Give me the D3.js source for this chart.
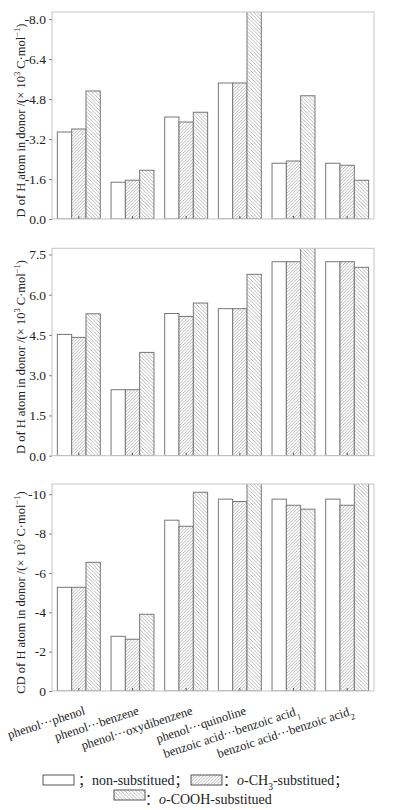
<!DOCTYPE html>
<html>
<head>
<meta charset="utf-8">
<script src="https://cdn.jsdelivr.net/npm/d3@7"></script>
<style>
  body { margin: 0; background: #fff; }
  svg text { font-family: "Liberation Serif", "Times New Roman", "Noto Sans CJK SC", serif; fill: #222; }
  .frame { fill: none; stroke: #c4c4c4; stroke-width: 1; }
  .bar { stroke: #777; stroke-width: 1; }
  .tick line { stroke: #888; }
</style>
</head>
<body>
<div id="chart"></div>
<script>
var w = 395;
var h = 810;
var left = 52, right = 374;

// categories (x axis)
var groups = ["phenol···phenol", "phenol···benzene", "phenol···oxydibenzene",
              "phenol···quinoline", "benzoic acid···benzoic acid", "benzoic acid···benzoic acid"];
var groupSubs = ["", "", "", "", "1", "2"];
var seriesKeys = ["non", "ch3", "cooh"];

// panel 1 : D of H atom (negative values)
var p1Non  = [-3.48, -1.47, -4.08, -5.44, -2.23, -2.23];
var p1Ch3  = [-3.60, -1.55, -3.88, -5.44, -2.32, -2.15];
var p1Cooh = [-5.12, -1.95, -4.27, -8.60, -4.93, -1.55];
var p1Ticks = [0, -1.6, -3.2, -4.8, -6.4, -8.0];

// panel 2 : D of H atom
var p2Non  = [4.52, 2.46, 5.30, 5.48, 7.23, 7.23];
var p2Ch3  = [4.41, 2.46, 5.19, 5.48, 7.23, 7.23];
var p2Cooh = [5.29, 3.85, 5.69, 6.76, 7.90, 7.02];
var p2Ticks = [0, 1.5, 3.0, 4.5, 6.0, 7.5];

// panel 3 : CD of H atom
var p3Non  = [-5.27, -2.78, -8.68, -9.75, -9.75, -9.75];
var p3Ch3  = [-5.27, -2.63, -8.37, -9.63, -9.44, -9.44];
var p3Cooh = [-6.54, -3.90, -10.10, -10.80, -9.24, -10.80];
var p3Ticks = [0, -2, -4, -6, -8, -10];

var panels = [
  {top: 12,    bottom: 219,   max: -8.28, ticks: p1Ticks, fmt: function(d){ return d.toFixed(1); },
   series: [p1Non, p1Ch3, p1Cooh], title: "D"},
  {top: 248.3, bottom: 455.7, max: 7.73,  ticks: p2Ticks, fmt: function(d){ return d.toFixed(1); },
   series: [p2Non, p2Ch3, p2Cooh], title: "D"},
  {top: 484,   bottom: 691,   max: -10.52, ticks: p3Ticks, fmt: function(d){ return String(d); },
   series: [p3Non, p3Ch3, p3Cooh], title: "CD"}
];

var fills = {non: "#fff", ch3: "url(#hatchUp)", cooh: "url(#hatchDown)"};

var svg = d3.select("#chart").append("svg")
  .attr("width", w)
  .attr("height", h);

var defs = svg.append("defs");
// "///" hatch
var pu = defs.append("pattern").attr("id", "hatchUp")
  .attr("patternUnits", "userSpaceOnUse").attr("width", 3.2).attr("height", 3.2);
pu.append("rect").attr("width", 3.2).attr("height", 3.2).attr("fill", "#fff");
pu.append("path").attr("d", "M-0.8,0.8 L0.8,-0.8 M0,3.2 L3.2,0 M2.4,4 L4,2.4")
  .attr("stroke", "#9a9a9a").attr("stroke-width", 0.7);
// "\\\" hatch
var pd = defs.append("pattern").attr("id", "hatchDown")
  .attr("patternUnits", "userSpaceOnUse").attr("width", 3.6).attr("height", 3.6);
pd.append("rect").attr("width", 3.6).attr("height", 3.6).attr("fill", "#fff");
pd.append("path").attr("d", "M-0.9,2.7 L0.9,4.5 M0,0 L3.6,3.6 M2.7,-0.9 L4.5,0.9")
  .attr("stroke", "#9a9a9a").attr("stroke-width", 0.7);

var xScale = d3.scaleBand()
  .domain(d3.range(groups.length))
  .range([left, right])
  .paddingInner(0.2)
  .paddingOuter(0.1);

var xSub = d3.scaleBand()
  .domain(seriesKeys)
  .range([0, xScale.bandwidth()]);

panels.forEach(function(p, pi) {
  var yScale = d3.scaleLinear()
    .domain([0, p.max])
    .range([p.bottom, p.top]);

  var g = svg.append("g");

  defs.append("clipPath").attr("id", "clip" + pi)
    .append("rect")
    .attr("x", left).attr("y", p.top)
    .attr("width", right - left).attr("height", p.bottom - p.top);

  var bars = g.append("g").attr("clip-path", "url(#clip" + pi + ")");
  groups.forEach(function(name, gi) {
    seriesKeys.forEach(function(k, si) {
      var v = p.series[si][gi];
      bars.append("rect")
        .attr("class", "bar")
        .attr("x", xScale(gi) + xSub(k))
        .attr("width", xSub.bandwidth())
        .attr("y", yScale(v))
        .attr("height", yScale(0) - yScale(v))
        .attr("fill", fills[k]);
    });
  });

  // small ticks at group centres
  g.selectAll(".gtick").data(d3.range(groups.length)).enter()
    .append("line")
    .attr("x1", function(d){ return xScale(d) + xScale.bandwidth() / 2; })
    .attr("x2", function(d){ return xScale(d) + xScale.bandwidth() / 2; })
    .attr("y1", p.bottom).attr("y2", p.bottom - 3)
    .attr("stroke", "#555");

  g.append("rect").attr("class", "frame")
    .attr("x", left).attr("y", p.top)
    .attr("width", right - left).attr("height", p.bottom - p.top);

  var yAxis = d3.axisLeft(yScale)
    .tickValues(p.ticks)
    .tickFormat(p.fmt)
    .tickSizeInner(3)
    .tickSizeOuter(0)
    .tickPadding(3);

  var ax = g.append("g")
    .attr("transform", "translate(" + left + ",0)")
    .call(yAxis);
  ax.select(".domain").remove();
  ax.selectAll("text").attr("font-size", "13.5px")
    .style("font-family", "'Liberation Serif', serif").attr("fill", "#333");

  var t = svg.append("text")
    .attr("transform", "translate(21," + ((p.top + p.bottom) / 2 + 5) + ") rotate(-90)")
    .attr("text-anchor", "middle")
    .attr("dy", "0.35em")
    .attr("font-size", "12.5px");
  t.append("tspan").text(p.title + " of H atom in donor /(× 10");
  t.append("tspan").attr("baseline-shift", "super").attr("font-size", "8.5px").text("3");
  t.append("tspan").text(" C·mol");
  t.append("tspan").attr("baseline-shift", "super").attr("font-size", "8.5px").text("−1");
  t.append("tspan").text(")");
});

// x labels, rotated
var labels = svg.append("g");
groups.forEach(function(name, gi) {
  var cx = xScale(gi) + xScale.bandwidth() / 2 + 7;
  var t = labels.append("text")
    .attr("transform", "translate(" + cx + ",714) rotate(-18)")
    .attr("text-anchor", "end")
    .attr("font-size", "12.5px");
  t.append("tspan").text(name);
  if (groupSubs[gi]) {
    t.append("tspan").attr("baseline-shift", "sub").attr("font-size", "8.5px").text(groupSubs[gi]);
  }
});

// legend
var legend = svg.append("g");
legend.append("rect").attr("x", 43).attr("y", 775).attr("width", 31).attr("height", 10)
  .attr("fill", fills.non).attr("stroke", "#555");
var l1 = legend.append("text").attr("x", 78).attr("y", 785).attr("font-size", "14px");
l1.append("tspan").text("；non-substitued；");

legend.append("rect").attr("x", 191).attr("y", 775).attr("width", 31).attr("height", 10)
  .attr("fill", fills.ch3).attr("stroke", "#555");
var l2 = legend.append("text").attr("x", 223).attr("y", 785).attr("font-size", "14px");
l2.append("tspan").text("：");
l2.append("tspan").attr("font-style", "italic").text("o");
l2.append("tspan").text("-CH");
l2.append("tspan").attr("baseline-shift", "sub").attr("font-size", "9.5px").text("3");
l2.append("tspan").text("-substitued；");

legend.append("rect").attr("x", 114).attr("y", 790).attr("width", 31).attr("height", 10)
  .attr("fill", fills.cooh).attr("stroke", "#555");
var l3 = legend.append("text").attr("x", 145).attr("y", 804).attr("font-size", "14px");
l3.append("tspan").text("：");
l3.append("tspan").attr("font-style", "italic").text("o");
l3.append("tspan").text("-COOH-substitued");
</script>
</body>
</html>
